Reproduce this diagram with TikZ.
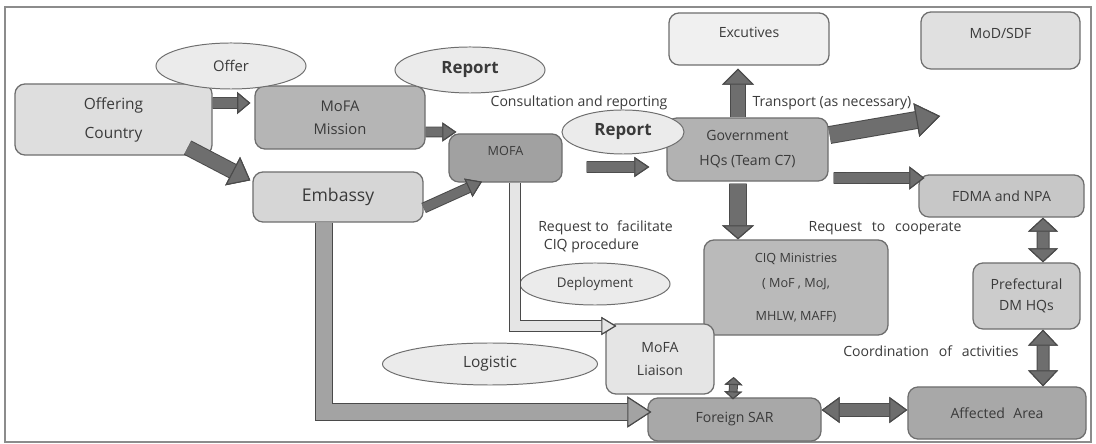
\documentclass[tikz,border=0pt]{standalone}
\usepackage{fontspec}
\setmainfont{Open Sans}
\usetikzlibrary{shapes.geometric,arrows.meta}
\definecolor{ink}{HTML}{3A3A3A}
\definecolor{boxedge}{HTML}{6E6E6E}
\definecolor{arrowedge}{HTML}{4A4A4A}
\definecolor{framegray}{HTML}{8C8C8C}

\begin{document}
\begin{tikzpicture}[x=0.025cm, y=-0.025cm,
	box/.style={draw=boxedge, line width=0.9pt, rounded corners=0.25cm, align=center, text=ink, inner sep=0pt},
	bubble/.style={ellipse, draw=boxedge, line width=0.7pt, fill=black!8, inner sep=0pt, text=ink},
	note/.style={text=ink, inner sep=0pt, font=\fontsize{10}{12}\selectfont},
	flow/.style n args={4}{draw=#1, line width=#2,
		>={Triangle[width=#3, length=#4, fill=#1, color=arrowedge, line width=0.8pt]},
		preaction={draw=arrowedge, line width=#2+1.4pt}}]
	\useasboundingbox (0,0) rectangle (1096,444);
	\draw [framegray, line width=1pt] (5,7) rectangle (1091,442);

	% boxes
	\node [box, fill=black!13, minimum width=4.925cm, minimum height=1.775cm, font=\fontsize{11}{20.6}\selectfont] (ofr) at (113.5,119.5) {Offering\\Country};
	\node [box, fill=black!29, minimum width=4.25cm, minimum height=1.575cm, font=\fontsize{10.5}{16.4}\selectfont] (mission) at (340,117.5) {MoFA\\Mission};
	\node [box, fill=black!16, minimum width=4.25cm, minimum height=1.25cm, font=\fontsize{12.5}{15}\selectfont] (embassy) at (338,197) {Embassy};
	\node [box, fill=black!37, minimum width=2.825cm, minimum height=1.2cm, font=\fontsize{9}{10}\selectfont] (mofa) at (505.5,158) {MOFA\\\mbox{}};
	\node [box, fill=black!30, minimum width=4.025cm, minimum height=1.575cm, font=\fontsize{10}{17.8}\selectfont] (gov) at (747.5,149.5) {Government\\HQs (Team C7)};
	\node [box, fill=black!6, minimum width=4cm, minimum height=1.3cm, font=\fontsize{10}{10}\selectfont] (exec) at (749,39) {Excutives\\\mbox{}};
	\node [box, fill=black!12, minimum width=3.975cm, minimum height=1.425cm, font=\fontsize{10}{10.5}\selectfont] (mod) at (1000.5,40.5) {MoD/SDF\\\mbox{}};
	\node [box, fill=black!22, minimum width=4.125cm, minimum height=1.05cm, font=\fontsize{10}{12}\selectfont] (fdma) at (1001.5,196) {FDMA and NPA};
	\node [box, fill=black!27, minimum width=4.6cm, minimum height=2.375cm, font=\fontsize{9}{17.8}\selectfont] (ciq) at (796,287.5) {CIQ Ministries\\( MoF , MoJ,\\[5.7pt]MHLW, MAFF)};
	\node [box, fill=black!20, minimum width=2.675cm, minimum height=1.65cm, font=\fontsize{10}{15}\selectfont] (pref) at (1026.5,296) {Prefectural\\DM HQs};
	\node [box, fill=black!10, minimum width=2.7cm, minimum height=1.75cm, font=\fontsize{10}{16}\selectfont] (liaison) at (660,359) {MoFA\\Liaison};
	\node [box, fill=black!34, minimum width=4.325cm, minimum height=1.075cm, font=\fontsize{10}{12}\selectfont] (sar) at (734.5,419.5) {Foreign SAR};
	\node [box, fill=black!34, minimum width=4.45cm, minimum height=1.3cm, font=\fontsize{10}{12}\selectfont] (affected) at (997,413) {Affected\hspace{0.6em}Area};

	% ellipses
	\node [bubble, minimum width=3.75cm, minimum height=1.15cm, font=\fontsize{10.5}{12}\selectfont] (offer) at (231,66) {Offer};
	\node [bubble, minimum width=3.75cm, minimum height=1.15cm, font=\fontsize{12}{14}\bfseries] (report) at (470,70) {Report};
	\node [bubble, minimum width=3.05cm, minimum height=1.1cm, font=\fontsize{12}{14}\bfseries] (report2) at (623,132) {Report};
	\node [bubble, minimum width=3.75cm, minimum height=1.05cm, font=\fontsize{9.5}{12}\selectfont] (deploy) at (595,284) {Deployment};
	\node [bubble, minimum width=5.375cm, minimum height=1.05cm, font=\fontsize{11}{12}\selectfont] (logistic) at (490,364) {Logistic};

	% texts
	\node [note] (consult) at (579,103) {Consultation and reporting};
	\node [note] (transport) at (832,103) {Transport (as necessary)};
	\node [note, align=left, anchor=west, font=\fontsize{10}{12.8}\selectfont] (facil) at (538,237) {Request to\hspace{0.6em}facilitate\\\hspace*{0.4em}CIQ procedure};
	\node [note] (coop) at (885,228) {Request\hspace{0.7em}to\hspace{0.7em}cooperate};
	\node [note] (coord) at (931,351) {Coordination\hspace{0.7em}of\hspace{0.7em}activities};
	\coordinate (trend) at (940,116);

	% arrows
	\draw [flow={black!57}{0.25cm}{0.55cm}{0.33cm}, ->] ([yshift=0.4125cm]ofr.east) -- ([xshift=-0.1cm, yshift=0.3625cm]mission.west);
	\draw [flow={black!57}{0.35cm}{0.8cm}{0.5cm}, ->] ([xshift=-0.625cm, yshift=0.2cm]ofr.south east) -- ([xshift=-0.05cm, yshift=-0.225cm]embassy.north west);
	\draw [flow={black!57}{0.225cm}{0.475cm}{0.35cm}, ->] ([yshift=-0.3625cm]mission.east) -- ([xshift=0.2cm, yshift=0.65cm]mofa.west);
	\draw [flow={black!57}{0.225cm}{0.5cm}{0.375cm}, ->] ([yshift=-0.275cm]embassy.east) -- ([xshift=-0.5875cm, yshift=0.025cm]mofa.south);
	\draw [flow={black!57}{0.25cm}{0.5cm}{0.375cm}, ->] ([xshift=0.6cm, yshift=-0.225cm]mofa.east) -- ([xshift=-0.425cm, yshift=-0.4375cm]gov.west);
	\draw [flow={black!57}{0.35cm}{0.8cm}{0.4cm}, ->] ([xshift=-0.2375cm]gov.north) -- ([xshift=-0.275cm, yshift=-0.075cm]exec.south);
	\draw [flow={black!57}{0.4cm}{0.85cm}{0.6cm}, ->] ([xshift=0.025cm, yshift=0.3625cm]gov.east) -- (trend);
	\draw [flow={black!57}{0.25cm}{0.575cm}{0.375cm}, ->] ([xshift=0.125cm, yshift=-0.7125cm]gov.east) -- ([xshift=0.15cm, yshift=0.45cm]fdma.west);
	\draw [flow={black!57}{0.4cm}{0.8cm}{0.35cm}, ->] ([xshift=-0.2375cm, yshift=-0.05cm]gov.south) -- ([xshift=-1.45cm]ciq.north);
	\draw [flow={black!10}{0.25cm}{0.45cm}{0.375cm}, ->] ([xshift=0.2375cm]mofa.south) |- ([xshift=0.275cm, yshift=0.825cm]liaison.west);
	\draw [flow={black!36}{0.4cm}{0.775cm}{0.6cm}, ->] ([xshift=-0.35cm]embassy.south) |- ([xshift=0.1cm, yshift=0.1875cm]sar.west);
	\draw [flow={black!57}{0.175cm}{0.45cm}{0.2cm}, <->] ([xshift=-0.04cm, yshift=-0.05cm]sar.north) -- ([xshift=0.475cm, yshift=-0.45cm]liaison.east);
	\draw [flow={black!57}{0.3cm}{0.65cm}{0.45cm}, <->] ([yshift=0.2375cm]sar.east) -- ([yshift=0.075cm]affected.west);
	\draw [flow={black!57}{0.275cm}{0.75cm}{0.35cm}, <->] ([xshift=1.0375cm]fdma.south) -- ([xshift=0.4125cm]pref.north);
	\draw [flow={black!57}{0.275cm}{0.75cm}{0.4cm}, <->] ([xshift=0.4125cm]pref.south) -- ([xshift=1.15cm]affected.north);
\end{tikzpicture}
\end{document}
